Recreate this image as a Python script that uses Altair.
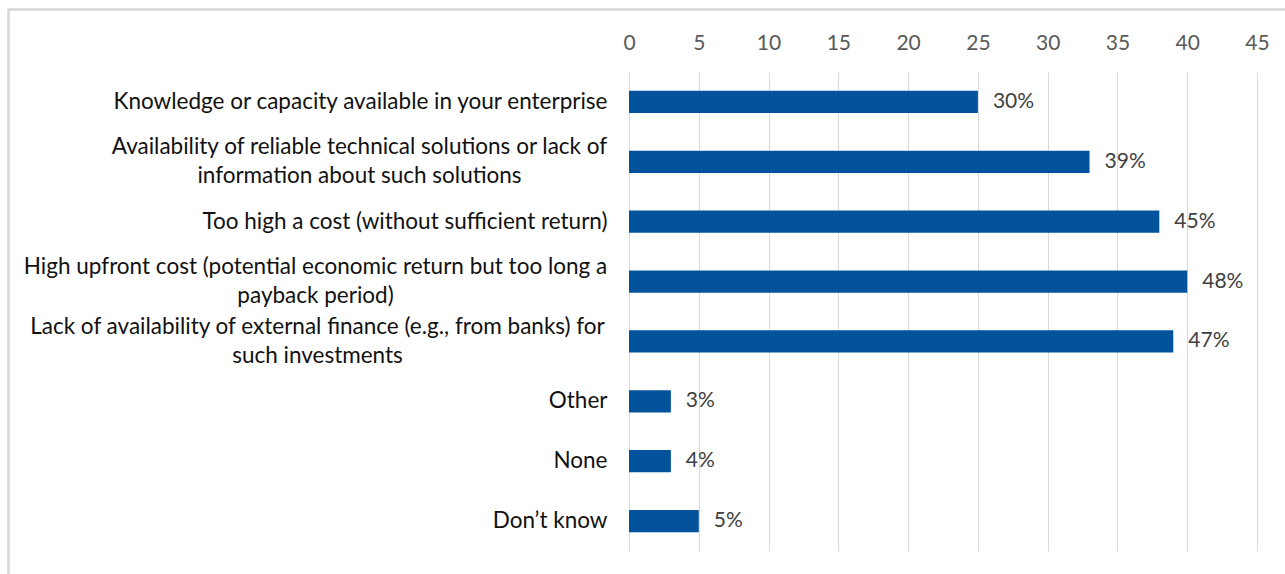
import altair as alt
import pandas as pd

categories = [
    "Knowledge or capacity available in your enterprise",
    "Availability of reliable technical solutions or lack of|information about such solutions",
    "Too high a cost (without sufficient return)",
    "High upfront cost (potential economic return but too long a|payback period)",
    "Lack of availability of external finance (e.g., from banks) for|such investments",
    "Other",
    "None",
    "Don\u2019t know",
]
bar_values = [25, 33, 38, 40, 39, 3, 3, 5]
value_labels = ["30%", "39%", "45%", "48%", "47%", "3%", "4%", "5%"]
tick_values = [0, 5, 10, 15, 20, 25, 30, 35, 40, 45]

df = pd.DataFrame({"category": categories, "value": bar_values, "label": value_labels})

FONT = "Lato"
multi = "indexof(datum.value, '|') >= 0"
y_enc = alt.Y(
    "category:N",
    sort=categories,
    title=None,
    scale=alt.Scale(paddingInner=0.63, paddingOuter=0.315),
    axis=alt.Axis(
        labelExpr="split(datum.label, '|')",
        labelFont=FONT,
        labelFontSize=22.5,
        labelColor="#111111",
        labelLineHeight=29,
        labelAlign={"expr": f"{multi} ? 'center' : 'right'"},
        labelOffset={"expr": f"{multi} ? -14.5 : 0"},
        labelPadding={
            "expr": "indexof(datum.value, 'Availability') == 0 ? 270 : "
            "indexof(datum.value, 'High upfront') == 0 ? 314 : "
            "indexof(datum.value, 'Lack of') == 0 ? 312 : 22"
        },
        labelLimit=700,
        domain=False,
        ticks=False,
        grid=False,
    ),
)
x_enc = alt.X(
    "value:Q",
    title=None,
    scale=alt.Scale(domain=[0, 45], nice=False),
    axis=alt.Axis(
        orient="top",
        values=tick_values,
        labelFont=FONT,
        labelFontSize=21,
        labelColor="#595959",
        labelPadding=19,
        labelFlush=False,
        domain=False,
        ticks=False,
        grid=True,
        gridColor="#D9D9D9",
        gridWidth=1,
    ),
)

bars = alt.Chart(df).mark_bar(color="#02529C").encode(x=x_enc, y=y_enc)
texts = alt.Chart(df).mark_text(
    align="left", baseline="middle", dx=15, font=FONT, fontSize=21, color="#404040"
).encode(x="value:Q", y=alt.Y("category:N", sort=categories), text="label:N")

frame_top = alt.Chart(df).mark_rule(color="#D9D9D9", strokeWidth=1.5).encode(
    x=alt.value(-620.5), x2=alt.value(660), y=alt.value(-62.5)
)
frame_left = alt.Chart(df).mark_rule(color="#D9D9D9", strokeWidth=1.5).encode(
    x=alt.value(-620.5), y=alt.value(-62.5), y2=alt.value(510)
)

chart = (
    alt.layer(bars, texts, frame_top, frame_left)
    .properties(
        width=628,
        height=479,
        autosize=alt.AutoSizeParams(type="none"),
        padding={"left": 629, "top": 72, "right": 28, "bottom": 23},
        background="white",
    )
    .configure_view(stroke=None)
)

chart.save("out.html", embed_options={"renderer": "svg", "actions": False})
